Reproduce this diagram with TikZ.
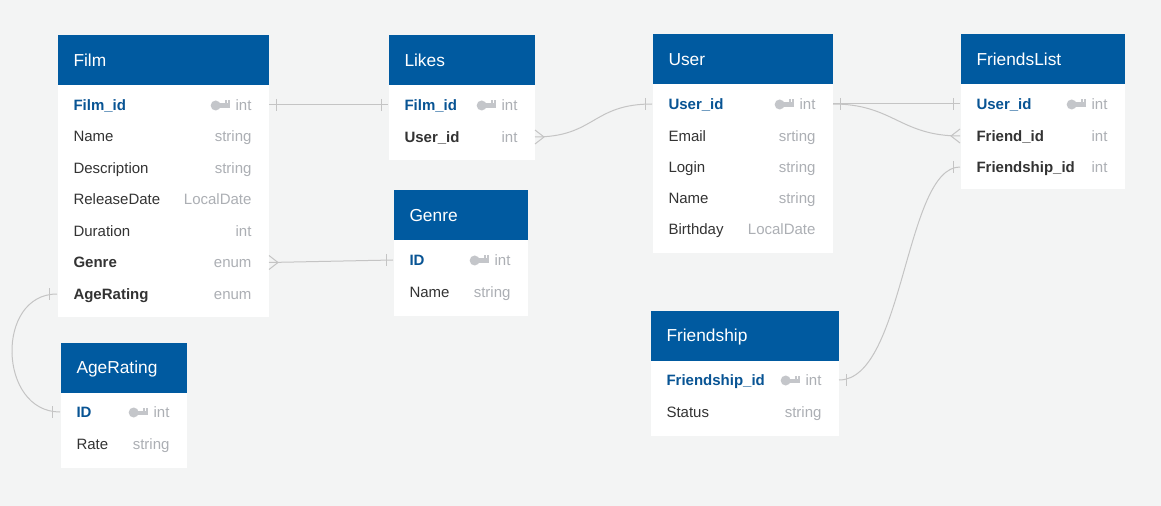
\documentclass[tikz,border=0pt]{standalone}
\usepackage{fontspec}
\setmainfont{Liberation Sans}

\definecolor{bggray}{RGB}{243,244,244}
\definecolor{headblue}{RGB}{0,90,160}
\definecolor{keyblue}{RGB}{8,84,148}
\definecolor{txtdark}{RGB}{51,51,51}
\definecolor{typegray}{RGB}{172,175,180}
\definecolor{keygray}{RGB}{196,198,202}
\definecolor{linkgray}{RGB}{196,196,196}

\tikzset{every picture/.style={line width=0.75pt}}
\tikzset{
  tbl/.style={fill=white, anchor=north west, inner sep=0pt},
  tblhead/.style={fill=headblue, text=white, anchor=north west, inner xsep=12pt, inner ysep=0pt,
    minimum height=37.5pt, align=left, font=\fontsize{13}{15}\selectfont, text height=9.3pt, text depth=0pt},
  fld/.style={anchor=west, inner sep=0pt, text=txtdark, font=\fontsize{11.25}{13}\selectfont,
    text height=8pt, text depth=0pt},
  keyfld/.style={fld, text=keyblue, font=\fontsize{11.25}{13}\selectfont\bfseries},
  fkfld/.style={fld, font=\fontsize{11.25}{13}\selectfont\bfseries},
  fldtype/.style={fld, anchor=east, text=typegray},
  link/.style={draw=linkgray, line width=0.75pt},
  keyicon/.pic={
    \fill [keygray] (-19.5,-0.5) circle (5);
    \fill [keygray] (-16,-3) rectangle (-5,1.5);
    \fill [keygray] (-10.5,1.5) rectangle (-8.5,4.5);
    \fill [keygray] (-7,1.5) rectangle (-5,4.5);
  }
}

\begin{document}
\begin{tikzpicture}[x=0.75pt,y=0.75pt,yscale=-1,xscale=1]
\useasboundingbox (0,0) rectangle (1161,506);
%Background
\path [fill=bggray] (0,0) rectangle (1161,506);

%Shape: Tables
\draw (57,35) node [tbl, minimum width=158.25pt, minimum height=210.75pt] (film) {};
\draw (388,35) node [tbl, minimum width=109.5pt, minimum height=93.75pt] (likes) {};
\draw (393,190) node [tbl, minimum width=100.5pt, minimum height=93.75pt] (genre) {};
\draw (652,34) node [tbl, minimum width=135pt, minimum height=164.25pt] (user) {};
\draw (960,34) node [tbl, minimum width=123pt, minimum height=116.25pt] (flist) {};
\draw (650,310) node [tbl, minimum width=141pt, minimum height=93.75pt] (fship) {};
\draw (60,342) node [tbl, minimum width=94.5pt, minimum height=93.75pt] (agerating) {};

%Shape: Headers
\draw (57,35) node [tblhead, text width=134.25pt] (filmH) {Film};
\draw (388,35) node [tblhead, text width=85.5pt] (likesH) {Likes};
\draw (393,190) node [tblhead, text width=76.5pt] (genreH) {Genre};
\draw (652,34) node [tblhead, text width=111pt] (userH) {User};
\draw (960,34) node [tblhead, text width=99pt] (flistH) {FriendsList};
\draw (650,310) node [tblhead, text width=117pt] (fshipH) {Friendship};
\draw (60,342) node [tblhead, text width=70.5pt] (ageratingH) {AgeRating};

% Text Node: Film
\draw (73,105) node [keyfld] (filmid) {Film\_id};
\draw (252,105) node [fldtype] (filmidT) {int};
\draw (73,136.5) node [fld] (filmname) {Name};
\draw (252,136.5) node [fldtype] (filmnameT) {string};
\draw (73,168) node [fld] (filmdesc) {Description};
\draw (252,168) node [fldtype] (filmdescT) {string};
\draw (73,199.5) node [fld] (filmdate) {ReleaseDate};
\draw (252,199.5) node [fldtype] (filmdateT) {LocalDate};
\draw (73,231) node [fld] (filmdur) {Duration};
\draw (252,231) node [fldtype] (filmdurT) {int};
\draw (73,262.5) node [fkfld] (filmgenre) {Genre};
\draw (252,262.5) node [fldtype] (filmgenreT) {enum};
\draw (73,294) node [fkfld] (filmage) {AgeRating};
\draw (252,294) node [fldtype] (filmageT) {enum};

% Text Node: Likes
\draw (404,105) node [keyfld] (likesfilm) {Film\_id};
\draw (518,105) node [fldtype] (likesfilmT) {int};
\draw (404,137) node [fkfld] (likesuser) {User\_id};
\draw (518,137) node [fldtype] (likesuserT) {int};

% Text Node: Genre
\draw (409,260) node [keyfld] (genreid) {ID};
\draw (511,260) node [fldtype] (genreidT) {int};
\draw (409,292) node [fld] (genrename) {Name};
\draw (511,292) node [fldtype] (genrenameT) {string};

% Text Node: User
\draw (668,104) node [keyfld] (userid) {User\_id};
\draw (816,104) node [fldtype] (useridT) {int};
\draw (668,136) node [fld] (usermail) {Email};
\draw (816,136) node [fldtype] (usermailT) {srting};
\draw (668,167) node [fld] (userlogin) {Login};
\draw (816,167) node [fldtype] (userloginT) {string};
\draw (668,198) node [fld] (username) {Name};
\draw (816,198) node [fldtype] (usernameT) {string};
\draw (668,229) node [fld] (userbday) {Birthday};
\draw (816,229) node [fldtype] (userbdayT) {LocalDate};

% Text Node: FriendsList
\draw (976,104) node [keyfld] (flistuser) {User\_id};
\draw (1108,104) node [fldtype] (flistuserT) {int};
\draw (976,136) node [fkfld] (flistfriend) {Friend\_id};
\draw (1108,136) node [fldtype] (flistfriendT) {int};
\draw (976,167) node [fkfld] (flistfship) {Friendship\_id};
\draw (1108,167) node [fldtype] (flistfshipT) {int};

% Text Node: Friendship
\draw (666,380) node [keyfld] (fshipid) {Friendship\_id};
\draw (822,380) node [fldtype] (fshipidT) {int};
\draw (666,412) node [fld] (fshipstatus) {Status};
\draw (822,412) node [fldtype] (fshipstatusT) {string};

% Text Node: AgeRating
\draw (76,412) node [keyfld] (ageid) {ID};
\draw (170,412) node [fldtype] (ageidT) {int};
\draw (76,444) node [fld] (agerate) {Rate};
\draw (170,444) node [fldtype] (agerateT) {string};

%Key icons
\pic at (filmidT.west) {keyicon};
\pic at (likesfilmT.west) {keyicon};
\pic at (genreidT.west) {keyicon};
\pic at (useridT.west) {keyicon};
\pic at (flistuserT.west) {keyicon};
\pic at (fshipidT.west) {keyicon};
\pic at (ageidT.west) {keyicon};

%Straight Lines: Film - Likes
\draw [link] (film.east |- filmid) -- (likes.west |- likesfilm);
\draw [link] (film.east |- filmid) ++(7,-6) -- ++(0,12);
\draw [link] (likes.west |- likesfilm) ++(-7,-6) -- ++(0,12);

%Curve Lines: Likes - User
\draw [link] (likes.east |- likesuser) .. controls +(60,0) and +(-60,0) .. (user.west |- userid);
\draw [link] (likes.east |- likesuser) ++(0,-7) -- ++(9,7) -- ++(-9,7);
\draw [link] (user.west |- userid) ++(-7,-6) -- ++(0,12);

%Straight Lines: User - FriendsList
\draw [link] (user.east |- userid) -- (flist.west |- flistuser);
\draw [link] (user.east |- userid) ++(7,-6) -- ++(0,12);
\draw [link] (flist.west |- flistuser) ++(-7,-6) -- ++(0,12);

%Curve Lines: User - FriendsList (Friend_id)
\draw [link] (user.east |- userid) .. controls +(60,0) and +(-60,0) .. (flist.west |- flistfriend);
\draw [link] (flist.west |- flistfriend) ++(0,-7) -- ++(-9,7) -- ++(9,7);

%Curve Lines: Friendship - FriendsList
\draw [link] (fship.east |- fshipid) .. controls +(65,0) and +(-55,0) .. (flist.west |- flistfship);
\draw [link] (fship.east |- fshipid) ++(7,-6) -- ++(0,12);
\draw [link] (flist.west |- flistfship) ++(-7,-6) -- ++(0,12);

%Straight Lines: Film - Genre
\draw [link] (film.east |- filmgenre) -- (genre.west |- genreid);
\draw [link] (film.east |- filmgenre) ++(0,-7) -- ++(9,7) -- ++(-9,7);
\draw [link] (genre.west |- genreid) ++(-7,-6) -- ++(0,12);

%Curve Lines: Film - AgeRating
\draw [link] (film.west |- filmage) .. controls +(-62,0) and +(-62,0) .. (agerating.west |- ageid);
\draw [link] (film.west |- filmage) ++(-8,-6) -- ++(0,12);
\draw [link] (agerating.west |- ageid) ++(-8,-6) -- ++(0,12);

\end{tikzpicture}
\end{document}
